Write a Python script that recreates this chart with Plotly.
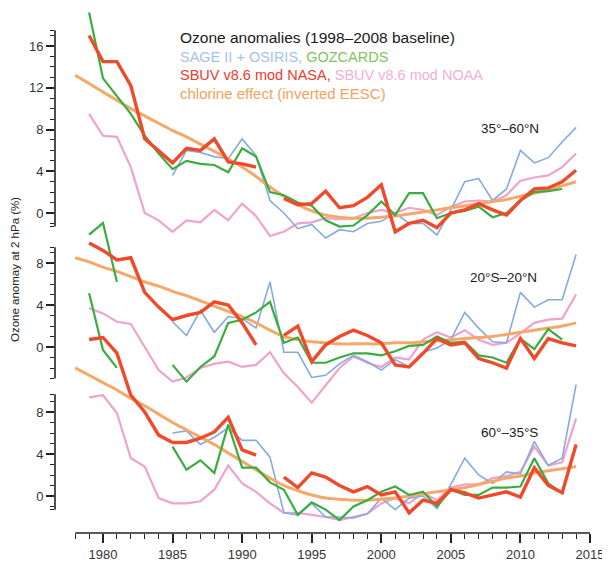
import plotly.graph_objects as go

# ---------------- data ----------------
years = list(range(1979, 2015))
years_eesc = list(range(1978, 2015))

# 35°–60°N
top_sage = [None]*6 + [3.6, 6.0, 5.8, 5.4, 5.2, 7.1, 5.5, 1.2, 0.0, -1.5, -1.1, -2.4, -1.6, -1.8,
            -1.0, -0.8, 0.0, -1.0, -1.0, -2.1, 0.3, 3.0, 3.3, 1.2, 2.3, 6.0, 4.8, 5.3, 6.8, 8.2]
top_goz = [19.2, 12.9, 11.2, 9.5, 7.4, 5.7, 4.2, 5.0, 4.7, 4.6, 3.9, 6.2, 5.4, 2.0, 1.7, 1.0, 0.7,
           -0.7, -1.3, -1.2, -0.2, 1.1, -0.2, 1.9, 1.9, -0.5, 0.0, 0.2, 0.6, -0.4, 0.0, 1.2, 2.0,
           2.1, 2.3, None]
top_nasa = [17.0, 14.5, 14.5, 12.2, 7.1, 5.9, 4.8, 6.2, 6.0, 7.1, 4.9, 4.7, 4.4, None, 1.4, 0.8,
            0.9, 2.1, 0.5, 0.7, 1.5, 2.7, -1.8, -1.0, -0.7, -1.4, 0.0, 0.3, 0.9, 0.3, -0.2, 1.2,
            2.3, 2.4, 3.0, 4.1]
top_noaa = [9.5, 7.4, 7.3, 4.4, 0.0, -0.7, -1.8, -0.7, -0.9, 0.3, -0.7, 0.9, -0.3, -2.2, -1.8,
            -1.0, -0.9, -0.5, -0.6, -0.5, 0.0, 0.3, 0.0, 0.5, 0.3, -0.2, 0.6, 1.1, 1.2, 1.1, 1.7,
            3.1, 3.4, 3.6, 4.4, 5.7]
top_eesc = [13.2, 12.4, 11.6, 10.8, 10.0, 9.3, 8.6, 7.9, 7.3, 6.6, 5.9, 5.2, 4.4, 3.5, 2.5, 1.6,
            0.8, 0.2, -0.2, -0.4, -0.5, -0.5, -0.4, -0.3, -0.1, 0.1, 0.3, 0.5, 0.7, 0.9, 1.1, 1.3,
            1.6, 1.9, 2.2, 2.6, 3.0]

# 20°S–20°N
mid_sage = [None]*6 + [2.4, 1.1, 3.5, 1.4, 2.9, 2.7, 1.8, 6.2, -0.5, -0.5, -2.9, -2.7, -1.6, -0.8,
            -1.4, -2.2, -1.2, -1.9, -0.5, -0.1, 0.7, 3.3, 1.8, 0.5, 0.4, 5.2, 3.8, 4.5, 4.5, 8.8]
mid_goz = [10.7, 11.8, 6.2, None, None, None, -1.7, -3.3, -1.9, -0.9, 2.3, 2.6, 3.3, 4.3, 0.4,
           0.9, -1.5, -1.5, -1.0, -0.6, -0.6, -0.8, -0.4, 0.1, 0.2, 1.0, 0.4, 0.5, -0.8, -1.0,
           -1.5, 0.8, -0.2, 1.7, 0.7, None]
mid_nasa = [9.9, 9.2, 8.3, 8.5, 5.2, 3.8, 2.6, 3.0, 3.3, 4.3, 4.0, 2.3, 0.2, None, 1.1, 2.0, -1.4,
            0.2, 1.0, 1.6, 1.1, 0.4, -1.7, -1.9, -0.6, 0.8, 0.2, 0.4, -1.1, -1.5, -2.0, 0.8,
            -1.1, 0.8, 0.4, 0.1]
mid_noaa = [3.7, 3.2, 2.4, 2.2, 0.0, -2.2, -3.3, -2.9, -2.0, -1.6, -1.4, -1.9, -1.7, -0.5, -2.5,
            -3.8, -5.3, -3.6, -2.0, -0.9, -1.5, -1.9, -1.0, -1.2, 0.7, 1.4, 0.9, 1.6, 0.7, 0.2,
            0.4, 1.3, 2.3, 2.6, 2.7, 5.0]
mid_eesc = [8.5, 8.1, 7.6, 7.2, 6.7, 6.2, 5.8, 5.3, 4.9, 4.4, 3.9, 3.4, 2.9, 2.3, 1.6, 1.0, 0.7,
            0.5, 0.4, 0.3, 0.3, 0.3, 0.3, 0.4, 0.4, 0.5, 0.6, 0.7, 0.8, 0.9, 1.0, 1.2, 1.4, 1.6,
            1.8, 2.0, 2.3]

# 60°–35°S
bot_sage = [None]*6 + [6.0, 6.2, 4.9, 5.6, 6.5, 5.3, 5.3, 3.7, -1.6, -1.8, -0.7, -2.0, -2.0, -2.1,
            -1.7, -0.2, -1.3, -0.2, 0.0, -1.2, 1.1, 3.6, 2.0, 1.2, 2.3, 2.1, 5.2, 2.9, 3.6, 10.6]
bot_goz = [19.3, 13.9, 12.2, None, None, None, 4.7, 2.5, 3.4, 2.2, 6.8, 2.7, 2.7, 1.3, 0.6, -1.8,
           -0.6, -1.3, -2.3, -1.0, -0.4, 0.4, 0.9, 0.1, 0.4, -1.0, 0.6, 0.1, 0.1, 0.8, 0.8, 0.9,
           3.6, 1.2, 0.3, None]
bot_nasa = [14.9, 15.1, 13.6, 9.6, 8.0, 5.8, 5.1, 5.1, 5.5, 6.1, 7.5, 4.4, 3.9, None, 1.8, 0.8,
            2.2, 1.8, 1.0, 0.4, 0.9, 0.1, 0.4, -1.6, -0.4, -0.7, 0.6, 0.3, -0.2, 0.1, 0.4, -0.1,
            2.7, 1.0, 0.3, 4.9]
bot_noaa = [9.4, 9.6, 7.9, 3.6, 2.8, -0.2, -0.7, -0.7, -0.5, 0.6, 2.9, 1.2, 0.4, -0.7, -1.6, -1.6,
            -1.8, -2.0, -2.3, -2.0, -1.7, -0.7, -0.2, -0.7, 0.3, -0.4, 0.8, 1.1, 1.1, 1.7, 1.9,
            2.3, 4.7, 2.9, 3.2, 7.4]
bot_eesc = [12.2, 11.5, 10.8, 10.1, 9.3, 8.6, 7.8, 7.0, 6.3, 5.6, 4.9, 4.1, 3.3, 2.5, 1.7, 1.0,
            0.5, 0.1, -0.2, -0.3, -0.4, -0.4, -0.3, -0.2, 0.0, 0.2, 0.4, 0.6, 0.8, 1.1, 1.4, 1.7,
            1.9, 2.2, 2.4, 2.6, 2.8]

x_ticks = [1980, 1985, 1990, 1995, 2000, 2005, 2010, 2015]
top_ticks = [0, 4, 8, 12, 16]
mid_ticks = [0, 4, 8]
bot_ticks = [0, 4, 8]
panel_names = ["35°–60°N", "20°S–20°N", "60°–35°S"]

# ---------------- style / layout ----------------
OFF = 8                      # page body margin of the html
W, H = 610 - OFF, 568 - OFF
# plot area in window pixels: x 55..590, y 10..533
L, R = 55 - OFF, 610 - 590
T, B = 10 - OFF, 568 - 533
PW, PH = W - L - R, H - T - B

C_SAGE = "#82acdf"
C_GOZ = "#3aac40"
C_NASA = "#ee4a2b"
C_NOAA = "#efa3cb"
C_EESC = "#f6a868"
AX = "#222222"
FONT = "Liberation Sans, Arial, Helvetica, sans-serif"

# x scale (window px): 1980 at 103, 2015 at 590 (right edge)
sx = (590 - 103) / 35.0
x_left = 1980 - (103 - 55) / sx


def yrange(p_zero, s):
    # p_zero in window pixels
    top = (p_zero - OFF - T) / s
    return [top - PH / s, top]


r_top = yrange(213, (213 - 46) / 16.0)
r_mid = yrange(347, (347 - 263) / 8.0)
r_bot = yrange(496, (496 - 412) / 8.0)


def px(xp, yp):
    # window pixels -> paper coords
    return (xp - OFF - L) / PW, 1 - (yp - OFF - T) / PH


fig = go.Figure()

panels = [
    ("y", top_sage, top_goz, top_nasa, top_noaa, top_eesc),
    ("y2", mid_sage, mid_goz, mid_nasa, mid_noaa, mid_eesc),
    ("y3", bot_sage, bot_goz, bot_nasa, bot_noaa, bot_eesc),
]
for yref, sage, goz, nasa, noaa, eesc in panels:
    fig.add_trace(go.Scatter(x=years, y=noaa, yaxis=yref, mode="lines",
                             line=dict(color=C_NOAA, width=2.2), connectgaps=False))
    fig.add_trace(go.Scatter(x=years, y=sage, yaxis=yref, mode="lines",
                             line=dict(color=C_SAGE, width=1.6), connectgaps=False))
    fig.add_trace(go.Scatter(x=years_eesc, y=eesc, yaxis=yref, mode="lines",
                             line=dict(color=C_EESC, width=3, shape="spline"), connectgaps=False))
    fig.add_trace(go.Scatter(x=years, y=goz, yaxis=yref, mode="lines",
                             line=dict(color=C_GOZ, width=2.2), connectgaps=False))
    fig.add_trace(go.Scatter(x=years, y=nasa, yaxis=yref, mode="lines",
                             line=dict(color=C_NASA, width=3.4), connectgaps=False))

tickfont = dict(family=FONT, size=13, color="#333333")


def yax(rng, ticks, minor_vals, overlay=None):
    d = dict(range=rng, tickvals=ticks, ticktext=[str(t) for t in ticks],
             ticks="outside", ticklen=8, tickwidth=1.5, tickcolor=AX,
             showgrid=False, zeroline=False, showline=False, tickfont=tickfont,
             domain=[0, 1], anchor="x", side="left", fixedrange=True,
             minor=dict(tickvals=minor_vals, ticks="outside", ticklen=4,
                        tickwidth=1.3, tickcolor=AX, showgrid=False))
    if overlay:
        d["overlaying"] = overlay
    return d


spans = {"y": (-1.3, 17.5), "y2": (-3.0, 9.5), "y3": (-1.3, 9.7)}

fig.update_layout(
    width=W, height=H,
    margin=dict(l=L, r=R, t=T, b=B),
    paper_bgcolor="white", plot_bgcolor="white",
    showlegend=False,
    font=dict(family=FONT, color="#222"),
    xaxis=dict(range=[x_left, 2015], tickvals=x_ticks,
               ticktext=[str(t) for t in x_ticks], ticks="outside", ticklen=9,
               tickwidth=1.5, tickcolor=AX, showgrid=False, zeroline=False,
               showline=False, tickfont=tickfont, fixedrange=True,
               minor=dict(tickvals=list(range(1978, 2016)), ticks="outside",
                          ticklen=5, tickwidth=1.3, tickcolor=AX, showgrid=False)),
    yaxis=yax(r_top, top_ticks, [spans["y"][0]] + list(range(-1, 18)) + [spans["y"][1]]),
    yaxis2=yax(r_mid, mid_ticks, [spans["y2"][0]] + list(range(-3, 10)) + [spans["y2"][1]], "y"),
    yaxis3=yax(r_bot, bot_ticks, [spans["y3"][0]] + list(range(-1, 10)) + [spans["y3"][1]], "y"),
)

# partial spines
shapes = [dict(type="line", xref="x", yref="paper", x0=1978, x1=2015, y0=0, y1=0,
               line=dict(color=AX, width=1.6))]
for yref, (a, b) in spans.items():
    shapes.append(dict(type="line", xref="paper", yref=yref, x0=0, x1=0, y0=a, y1=b,
                       line=dict(color=AX, width=1.6)))
fig.update_layout(shapes=shapes)

ann = []
# legend text block
leg_lines = [
    ("<span style='color:#1a1a1a'>Ozone anomalies (1998–2008 baseline)</span>", 38, 15.5),
    ("<span style='color:#a3c3ea'>SAGE II + OSIRIS, </span><span style='color:#7cc65a'>GOZCARDS</span>", 57, 14.5),
    ("<span style='color:#ee3b2b'>SBUV v8.6 mod NASA, </span><span style='color:#f2b0d4'>SBUV v8.6 mod NOAA</span>", 75, 14.5),
    ("<span style='color:#f5a25d'>chlorine effect (inverted EESC)</span>", 93, 15),
]
for txt, yp, fs in leg_lines:
    xx, yy = px(178, yp)
    ann.append(dict(text=txt, x=xx, y=yy, xref="paper", yref="paper", xanchor="left",
                    yanchor="middle", showarrow=False, font=dict(family=FONT, size=fs)))

for name, (xp, yp) in zip(panel_names, [(510, 128), (503, 277), (509, 432)]):
    xx, yy = px(xp, yp)
    ann.append(dict(text=name, x=xx, y=yy, xref="paper", yref="paper", xanchor="center",
                    yanchor="middle", showarrow=False,
                    font=dict(family=FONT, size=13.5, color="#1a1a1a")))

xx, yy = px(15, 270)
ann.append(dict(text="Ozone anomay at 2 hPa (%)", x=xx, y=yy, xref="paper", yref="paper",
                textangle=-90, xanchor="center", yanchor="middle", showarrow=False,
                font=dict(family=FONT, size=11.5, color="#222")))
fig.update_layout(annotations=ann)

fig.write_html("out.html")
